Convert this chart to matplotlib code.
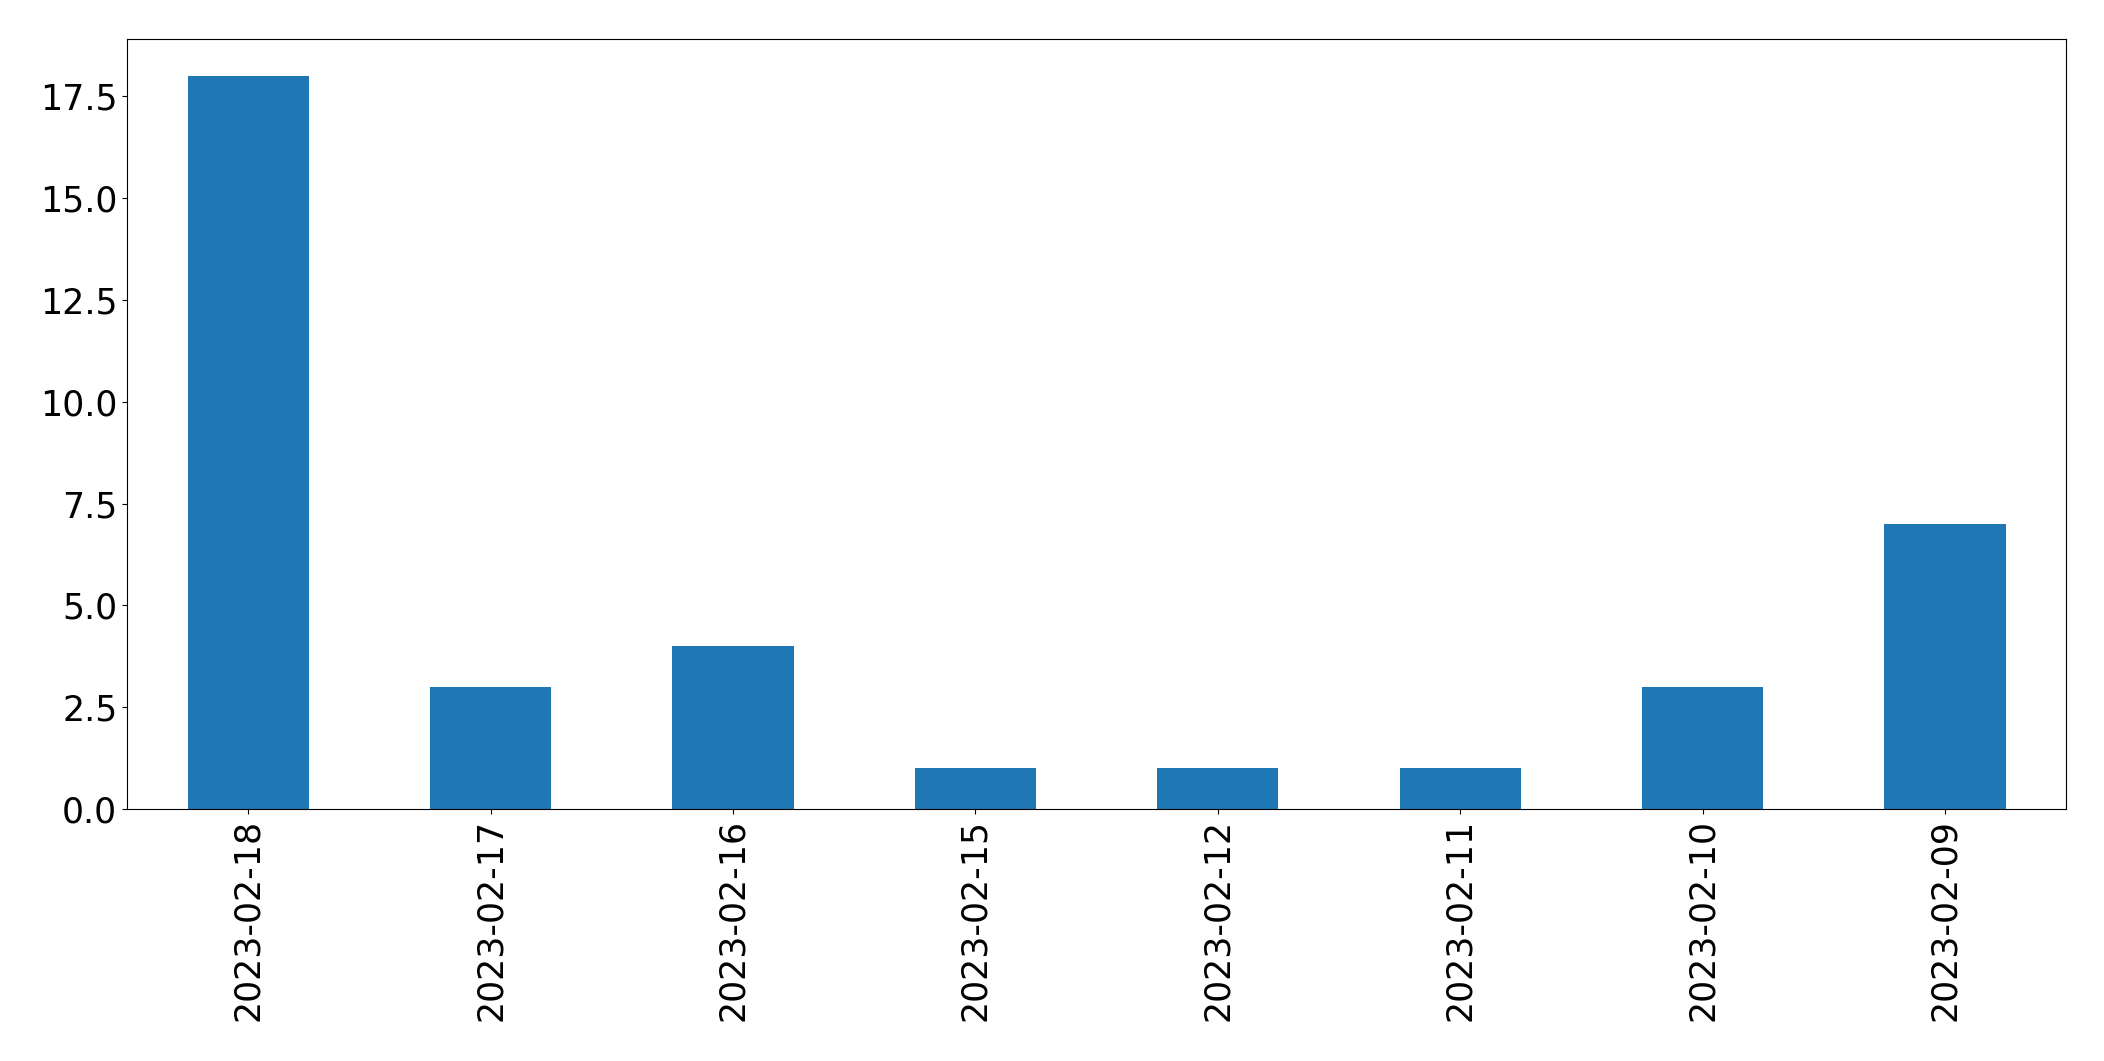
import numpy as np
import matplotlib
matplotlib.use("Agg")
import matplotlib.pyplot as plt

dates = ["2023-02-18", "2023-02-17", "2023-02-16", "2023-02-15",
         "2023-02-12", "2023-02-11", "2023-02-10", "2023-02-09"]
counts = [18, 3, 4, 1, 1, 1, 3, 7]

fig = plt.figure(figsize=(21.04, 10.61), dpi=100)
ax = fig.add_axes([0.0604, 0.2375, 0.9216, 0.7255])

x = np.arange(len(dates))
ax.bar(x, counts, width=0.5, color='#1f77b4')
ax.set_xlim(-0.5, len(dates) - 0.5)
ax.set_xticks(x)
ax.set_xticklabels(dates, rotation=90)
ax.tick_params(labelsize=25)

fig.savefig("out.png", dpi=100)
